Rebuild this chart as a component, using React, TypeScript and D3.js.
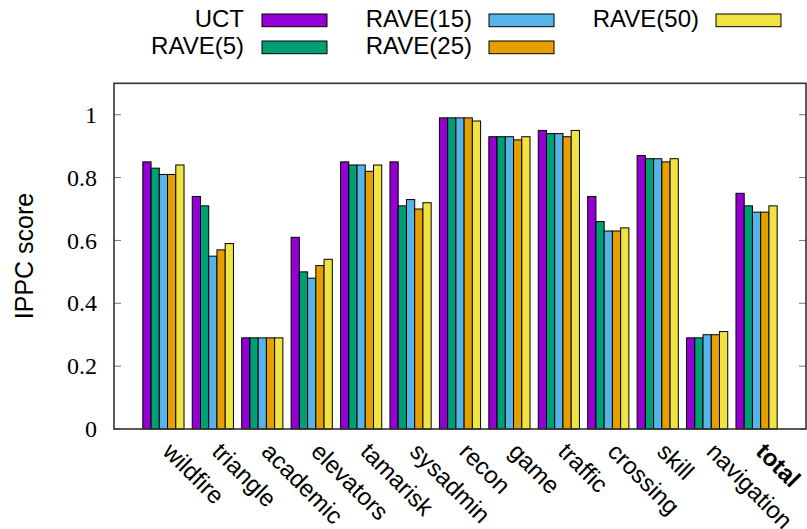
import React from "react";
import * as d3 from "d3";

const categories = ["wildfire","triangle","academic","elevators","tamarisk","sysadmin","recon","game","traffic","crossing","skill","navigation","total"];
const seriesNames = ["UCT","RAVE(5)","RAVE(15)","RAVE(25)","RAVE(50)"];
const seriesColors = ["#9400d3","#009e73","#56b4e9","#e69f00","#f0e442"];
const uct = [0.85,0.74,0.29,0.61,0.85,0.85,0.99,0.93,0.95,0.74,0.87,0.29,0.75];
const rave5 = [0.83,0.71,0.29,0.50,0.84,0.71,0.99,0.93,0.94,0.66,0.86,0.29,0.71];
const rave15 = [0.81,0.55,0.29,0.48,0.84,0.73,0.99,0.93,0.94,0.63,0.86,0.30,0.69];
const rave25 = [0.81,0.57,0.29,0.52,0.82,0.70,0.99,0.92,0.93,0.63,0.85,0.30,0.69];
const rave50 = [0.84,0.59,0.29,0.54,0.84,0.72,0.98,0.93,0.95,0.64,0.86,0.31,0.71];
const seriesValues = [uct, rave5, rave15, rave25, rave50];
const yTicks = [0, 0.2, 0.4, 0.6, 0.8, 1];

const W = 807, H = 529;
const X0 = 114, X1 = 806, Y0 = 83.3, Y1 = 429;

export default function App() {
  const x = d3.scaleLinear().domain([0, 14]).range([X0, X1]);
  const y = d3.scaleLinear().domain([0, 1.1]).range([Y1, Y0]);
  const bw = x(1 / 6) - x(0);
  const sans = "'Liberation Sans', Arial, Helvetica, sans-serif";
  const serif = "'Liberation Serif', 'Times New Roman', serif";
  const legendCols = [
    { tx: 244, sx: 262 },
    { tx: 472, sx: 489 },
    { tx: 699, sx: 716 },
  ];
  return (
    <svg width={W} height={H} style={{ position: "absolute", left: 0, top: 0, background: "#fff" }}>
      <rect x={0} y={0} width={W} height={H} fill="#fff" />
      {/* bars */}
      {seriesValues.map((vals, j) =>
        vals.map((v, i) => (
          <rect
            key={`b${j}-${i}`}
            x={x(i + 1 - 2.5 / 6 + j / 6)}
            y={y(v)}
            width={bw}
            height={y(0) - y(v)}
            fill={seriesColors[j]}
            stroke="#000"
            strokeWidth={1}
          />
        ))
      )}
      {/* ticks */}
      {yTicks.map((t) => (
        <g key={`t${t}`}>
          <line x1={X0} x2={X0 + 7} y1={y(t)} y2={y(t)} stroke="#777" strokeWidth={1} />
          <line x1={X1 - 7} x2={X1} y1={y(t)} y2={y(t)} stroke="#777" strokeWidth={1} />
          <text x={97} y={y(t)} dy="0.34em" textAnchor="end" fontFamily={serif} fontSize={24} fill="#000">
            {String(t)}
          </text>
        </g>
      ))}
      {/* frame */}
      <rect x={X0} y={Y0} width={X1 - X0} height={Y1 - Y0} fill="none" stroke="#333" strokeWidth={1.6} />
      {/* x labels */}
      {categories.map((c, i) => {
        const lx = x(i + 1) - 2;
        const ly = 453;
        return (
          <text
            key={`x${c}`}
            x={lx}
            y={ly}
            transform={`rotate(45 ${lx} ${ly})`}
            fontFamily={sans}
            fontSize={24}
            fontWeight={c === "total" ? "bold" : "normal"}
            fill="#000"
          >
            {c}
          </text>
        );
      })}
      {/* y label */}
      <text
        transform={`translate(33 256) rotate(-90)`}
        textAnchor="middle"
        fontFamily={sans}
        fontSize={25}
        fill="#000"
      >
        IPPC score
      </text>
      {/* legend */}
      {seriesNames.map((n, j) => {
        const col = legendCols[Math.floor(j / 2)];
        const row = j % 2;
        const sy = row === 0 ? 14 : 41;
        const by = row === 0 ? 27 : 53.5;
        return (
          <g key={`l${n}`}>
            <text x={col.tx} y={by} textAnchor="end" fontFamily={sans} fontSize={24} fill="#000">
              {n}
            </text>
            <rect x={col.sx} y={sy} width={65} height={12.7} fill={seriesColors[j]} stroke="#000" strokeWidth={1} />
          </g>
        );
      })}
    </svg>
  );
}
